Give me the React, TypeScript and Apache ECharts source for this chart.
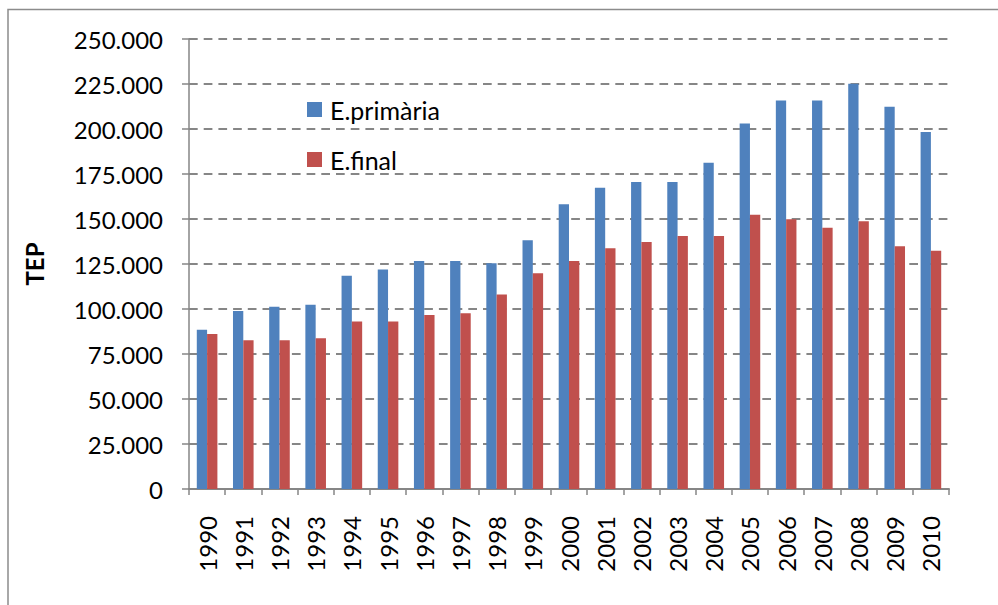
import React, { useEffect, useRef } from "react";
import * as echarts from "echarts";

const years = ["1990","1991","1992","1993","1994","1995","1996","1997","1998","1999","2000","2001","2002","2003","2004","2005","2006","2007","2008","2009","2010"];
const primaria = [88500,98900,101300,102400,118500,122000,126700,126700,125400,138200,158200,167300,170600,170600,181200,203000,215800,215800,225100,212300,198400];
const finalE = [86100,82700,82700,83800,93100,93100,96600,97700,108100,119800,126700,133700,137200,140600,140600,152300,149900,145200,148800,134900,132400];
const seriesNames = ["E.primària", "E.final"];
const yAxisTitle = "TEP";

const FONT = "Lato";

function fmt(v: number): string {
  if (v === 0) return "0";
  const s = String(Math.round(v));
  return s.replace(/\B(?=(\d{3})+(?!\d))/g, ".");
}

export default function App() {
  const ref = useRef<HTMLDivElement>(null);
  useEffect(() => {
    if (!ref.current) return;
    const chart = echarts.init(ref.current, null, { renderer: "svg" });
    chart.setOption({
      animation: false,
      backgroundColor: "#ffffff",
      textStyle: { fontFamily: FONT },
      graphic: [
        {
          type: "rect",
          shape: { x: 8, y: 9.5, width: 1100, height: 700 },
          style: { fill: "none", stroke: "#8c8c8c", lineWidth: 1.5 },
          silent: true,
        },
      ],
      legend: {
        orient: "vertical",
        left: 307,
        top: 97,
        padding: 0,
        itemWidth: 15,
        itemHeight: 15,
        itemGap: 25,
        icon: "rect",
        textStyle: { fontFamily: FONT, fontSize: 25, color: "#000", lineHeight: 24, padding: [0, 0, 0, 3] },
        data: seriesNames,
      },
      grid: { left: 189, right: 49, top: 39, bottom: 116, containLabel: false },
      xAxis: {
        type: "category",
        data: years,
        boundaryGap: true,
        axisLine: { lineStyle: { color: "#868686", width: 2 } },
        axisTick: { show: true, length: 6, lineStyle: { color: "#868686", width: 1.5 } },
        axisLabel: { rotate: 90, margin: 27, fontFamily: FONT, fontSize: 24, color: "#000", interval: 0 },
      },
      yAxis: {
        type: "value",
        min: 0,
        max: 250000,
        interval: 25000,
        name: yAxisTitle,
        nameLocation: "middle",
        nameGap: 143,
        nameRotate: 90,
        nameTextStyle: { fontFamily: FONT, fontSize: 24, fontWeight: "bold", color: "#000" },
        axisLine: { show: true, lineStyle: { color: "#868686", width: 1.5 } },
        axisTick: { show: true, length: 7, lineStyle: { color: "#868686", width: 1.5 } },
        axisLabel: { margin: 26, fontFamily: FONT, fontSize: 24, color: "#000", formatter: (v: number) => fmt(v) },
        splitLine: { show: true, lineStyle: { color: "#868686", width: 1.8, type: [8.7, 6] } },
      },
      series: [
        {
          name: seriesNames[0],
          type: "bar",
          data: primaria,
          barWidth: 10.3,
          barGap: "0%",
          itemStyle: { color: "#4F81BD" },
        },
        {
          name: seriesNames[1],
          type: "bar",
          data: finalE,
          barWidth: 10.3,
          barGap: "0%",
          itemStyle: { color: "#C0504D" },
        },
      ],
    });
    return () => chart.dispose();
  }, []);
  return (
    <div
      ref={ref}
      style={{ position: "fixed", left: 0, top: 0, width: 998, height: 605 }}
    />
  );
}
